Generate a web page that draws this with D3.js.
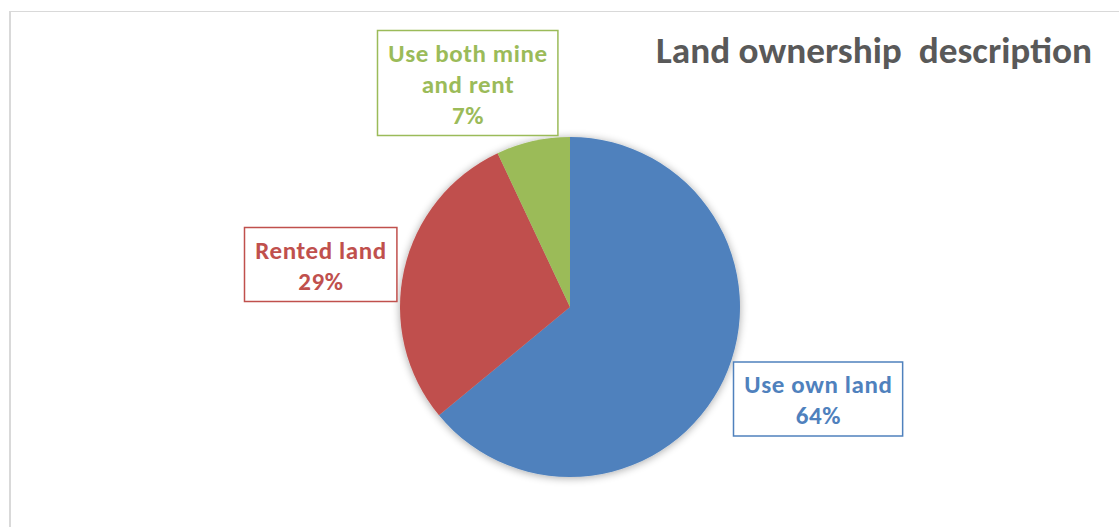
<!DOCTYPE html>
<html>
<head>
<meta charset="utf-8">
<script src="https://cdn.jsdelivr.net/npm/d3@7"></script>
<style>
  html, body { margin: 0; padding: 0; background: #ffffff; }
  svg { display: block; }
  text { font-family: Carlito, Calibri, Lato, "Open Sans", sans-serif; font-weight: bold; }
</style>
</head>
<body>
<svg id="chart" width="1119" height="527"></svg>
<script>
// Land ownership shares (percent)
const categories = ["Use own land", "Rented land", "Use both mine and rent"];
const values = [64, 29, 7];
const labelLines = [["Use own land"], ["Rented land"], ["Use both mine", "and rent"]];
const chartTitle = "Land ownership  description";

const colors = d3.scaleOrdinal()
  .domain(categories)
  .range(["#4F81BD", "#C0504D", "#9BBB59"]);

const W = 1119, H = 527;
const cx = 570, cy = 307, R = 170;

const svg = d3.select("#chart");

// soft outer shadow around the pie
const defs = svg.append("defs");
const f = defs.append("filter").attr("id", "pieShadow")
  .attr("x", "-20%").attr("y", "-20%").attr("width", "140%").attr("height", "140%");
f.append("feGaussianBlur").attr("in", "SourceAlpha").attr("stdDeviation", 4).attr("result", "blur");
f.append("feOffset").attr("in", "blur").attr("dx", 0).attr("dy", 1).attr("result", "off");
f.append("feComponentTransfer").attr("in", "off").attr("result", "soft")
  .append("feFuncA").attr("type", "linear").attr("slope", 0.35);
const merge = f.append("feMerge");
merge.append("feMergeNode").attr("in", "soft");
merge.append("feMergeNode").attr("in", "SourceGraphic");

// chart frame (left and top edges visible)
svg.append("line").attr("x1", 10).attr("y1", 11).attr("x2", 10).attr("y2", H)
  .attr("stroke", "#d9d9d9").attr("stroke-width", 2);
svg.append("line").attr("x1", 9).attr("y1", 11.5).attr("x2", W).attr("y2", 11.5)
  .attr("stroke", "#d9d9d9").attr("stroke-width", 1.2);

// title
svg.append("text")
  .attr("x", 656).attr("y", 63)
  .attr("fill", "#595959")
  .attr("font-size", 37)
  .attr("textLength", 436).attr("lengthAdjust", "spacingAndGlyphs")
  .style("white-space", "pre")
  .text(chartTitle);

// pie
const pie = d3.pie().sort(null).value(d => d.value);
const arc = d3.arc().innerRadius(0).outerRadius(R);
const data = categories.map((c, i) => ({ category: c, value: values[i], lines: labelLines[i] }));
const arcs = pie(data);

svg.append("g")
  .attr("transform", `translate(${cx},${cy})`)
  .attr("filter", "url(#pieShadow)")
  .selectAll("path")
  .data(arcs)
  .join("path")
  .attr("d", arc)
  .attr("fill", d => colors(d.data.category));

// data label boxes (top-left corners of each callout)
const labelBoxes = {
  "Use own land": { x: 733.5, y: 362 },
  "Rented land": { x: 244.5, y: 227.5 },
  "Use both mine and rent": { x: 377.5, y: 30.5 }
};
const lineH = 31, padX = 10.5;

arcs.forEach(d => {
  const col = colors(d.data.category);
  const pos = labelBoxes[d.data.category];
  const lines = d.data.lines.concat([d3.format(".0%")(d.data.value / d3.sum(values))]);
  const g = svg.append("g");
  const rect = g.append("rect");
  const t = g.append("text").attr("fill", col).attr("font-size", 25)
    .attr("letter-spacing", 0.6).attr("text-anchor", "middle");
  lines.forEach((ln, i) => {
    t.append("tspan").attr("x", 0).attr("y", pos.y + 31 + i * lineH).text(ln);
  });
  const bw = t.node().getBBox().width + 2 * padX;
  const bh = lines.length * lineH + 12;
  t.selectAll("tspan").attr("x", pos.x + bw / 2 + 0.3);
  rect.attr("x", pos.x).attr("y", pos.y).attr("width", bw).attr("height", bh)
    .attr("fill", "#ffffff").attr("stroke", col).attr("stroke-width", 1.5);
});
</script>
</body>
</html>
